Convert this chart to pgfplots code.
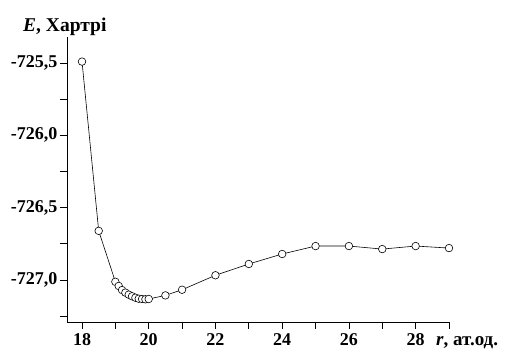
\documentclass[border=0pt]{standalone}
\usepackage{fontspec}
\setmainfont{Liberation Serif}
\usepackage{pgfplots}
\pgfplotsset{compat=1.18}
\begin{document}
\begin{tikzpicture}[x=1pt,y=1pt]
\begin{axis}[
  at={(0,0)}, anchor=south west,
  scale only axis, width=382pt, height=285pt,
  xmin=17.55, xmax=29.0, ymin=-727.29, ymax=-725.32,
  axis lines=left, axis line style={-, line width=0.8pt},
  xtick={18,20,...,28}, minor xtick={19,21,...,29},
  ytick={-727,-726.5,-726,-725.5}, minor ytick={-727.25,-726.75,-726.25,-725.75},
  tick align=outside, major tick length=7pt, minor tick length=7pt,
  tick style={black, line width=0.8pt},
  tick label style={font=\fontsize{18}{21}\selectfont\bfseries},
  yticklabel={\pgfmathprintnumber[fixed,fixed zerofill,precision=1,use comma,assume math mode=true]{\tick}},
  xticklabel={\pgfmathprintnumber[fixed,precision=0,assume math mode=true]{\tick}},
  yticklabel style={xshift=1pt},
  xticklabel style={yshift=-1pt},
  clip=false,
]
\addplot[black, line width=0.6pt, mark=*, mark size=3.8pt, mark options={fill=white, draw=black, line width=0.6pt}] coordinates {
(18,-725.49) (18.5,-726.66) (19.0,-727.012) (19.1,-727.041) (19.2,-727.069) (19.3,-727.087)
(19.4,-727.101) (19.5,-727.112) (19.6,-727.122) (19.7,-727.129) (19.8,-727.131) (19.9,-727.133)
(20.0,-727.131) (20.5,-727.106) (21,-727.067) (22,-726.967) (23,-726.889) (24,-726.82)
(25,-726.765) (26,-726.765) (27,-726.786) (28,-726.765) (29,-726.779)
};
\end{axis}
\node[anchor=base west, font=\fontsize{19.5}{22}\selectfont\bfseries, inner sep=0pt] at (-44,290) {\textit{E}, Хартрі};
\node[anchor=base west, font=\fontsize{19}{22}\selectfont\bfseries, inner sep=0pt] at (369,-24) {\textit{r}, ат.од.};
\useasboundingbox (-67,-28) rectangle (439,322);
\end{tikzpicture}
\end{document}
